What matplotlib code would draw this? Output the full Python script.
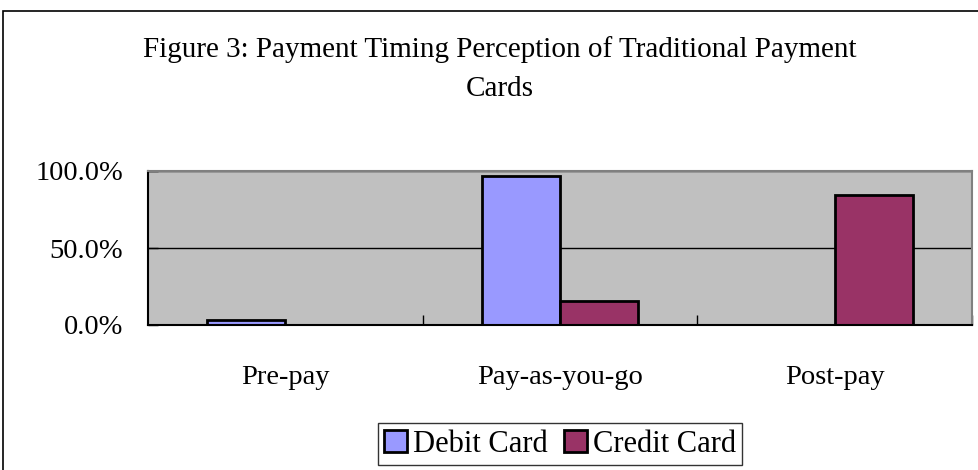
import matplotlib
matplotlib.use("Agg")
import matplotlib.pyplot as plt
from matplotlib.patches import Rectangle, Patch
import numpy as np

categories = ["Pre-pay", "Pay-as-you-go", "Post-pay"]
debit_card = [3.0, 97.0, 0.0]
credit_card = [0.0, 15.6, 84.4]
series_names = ["Debit Card", "Credit Card"]
ytick_values = [0, 50, 100]
ytick_labels = ["0.0%", "50.0%", "100.0%"]
title_text = "Figure 3: Payment Timing Perception of Traditional Payment\nCards"

plt.rcParams['font.family'] = ['Liberation Serif', 'DejaVu Serif']

W, H = 979, 470
fig = plt.figure(figsize=(W / 100, H / 100), dpi=100)
fig.patch.set_facecolor("white")

# outer chart frame (right and bottom edges fall outside the image)
fig.patches.append(Rectangle((3 / W, -0.2), 1.2, 1.2 - 11 / H, transform=fig.transFigure,
                             fill=False, edgecolor="black", linewidth=1.2))

ax = fig.add_axes([148 / W, 1 - 325 / H, (972 - 148) / W, (325 - 171) / H])
ax.set_facecolor("#C0C0C0")

x = np.arange(len(categories))
w = 0.284
ax.bar(x - w / 2, debit_card, w, color="#9999FF", edgecolor="black", linewidth=2, zorder=3,
       label=series_names[0])
ax.bar(x + w / 2, credit_card, w, color="#993366", edgecolor="black", linewidth=2, zorder=3,
       label=series_names[1])

ax.set_xlim(-0.5, len(categories) - 0.5)
ax.set_ylim(0, 100)
ax.set_yticks(ytick_values)
ax.set_yticklabels(ytick_labels, fontsize=20.5)
ax.tick_params(axis="y", direction="in", length=7, width=1, pad=18)
ax.set_xticks(x)
ax.set_xticklabels(categories, fontsize=20.5)
ax.tick_params(axis="x", which="major", length=0, pad=29)
ax.set_xticks(np.arange(len(categories)) + 0.5, minor=True)
ax.tick_params(axis="x", which="minor", direction="in", length=7, width=1)

ax.grid(axis="y", color="black", linewidth=1, zorder=1)
ax.set_axisbelow(True)
for s in ["left", "bottom"]:
    ax.spines[s].set_color("black")
    ax.spines[s].set_linewidth(1.5)
    ax.spines[s].set_zorder(4)
for s in ["top", "right"]:
    ax.spines[s].set_color("#808080")
    ax.spines[s].set_linewidth(1.5)
    ax.spines[s].set_zorder(4)

fig.text(500 / W, 1 - 69 / H, title_text, ha="center", va="center", fontsize=21,
         linespacing=1.65)

handles = [Patch(facecolor="#9999FF", edgecolor="black", linewidth=2),
           Patch(facecolor="#993366", edgecolor="black", linewidth=2)]
leg = fig.legend(handles, series_names, loc="center", bbox_to_anchor=(560 / W, 1 - 444 / H),
                 ncol=2, fontsize=22, frameon=True, fancybox=False, edgecolor="black",
                 handlelength=0.75, handleheight=0.75, handletextpad=0.2, columnspacing=0.55,
                 borderpad=0.2, borderaxespad=0)
leg.get_frame().set_linewidth(1)

fig.savefig("out.png", dpi=100)
